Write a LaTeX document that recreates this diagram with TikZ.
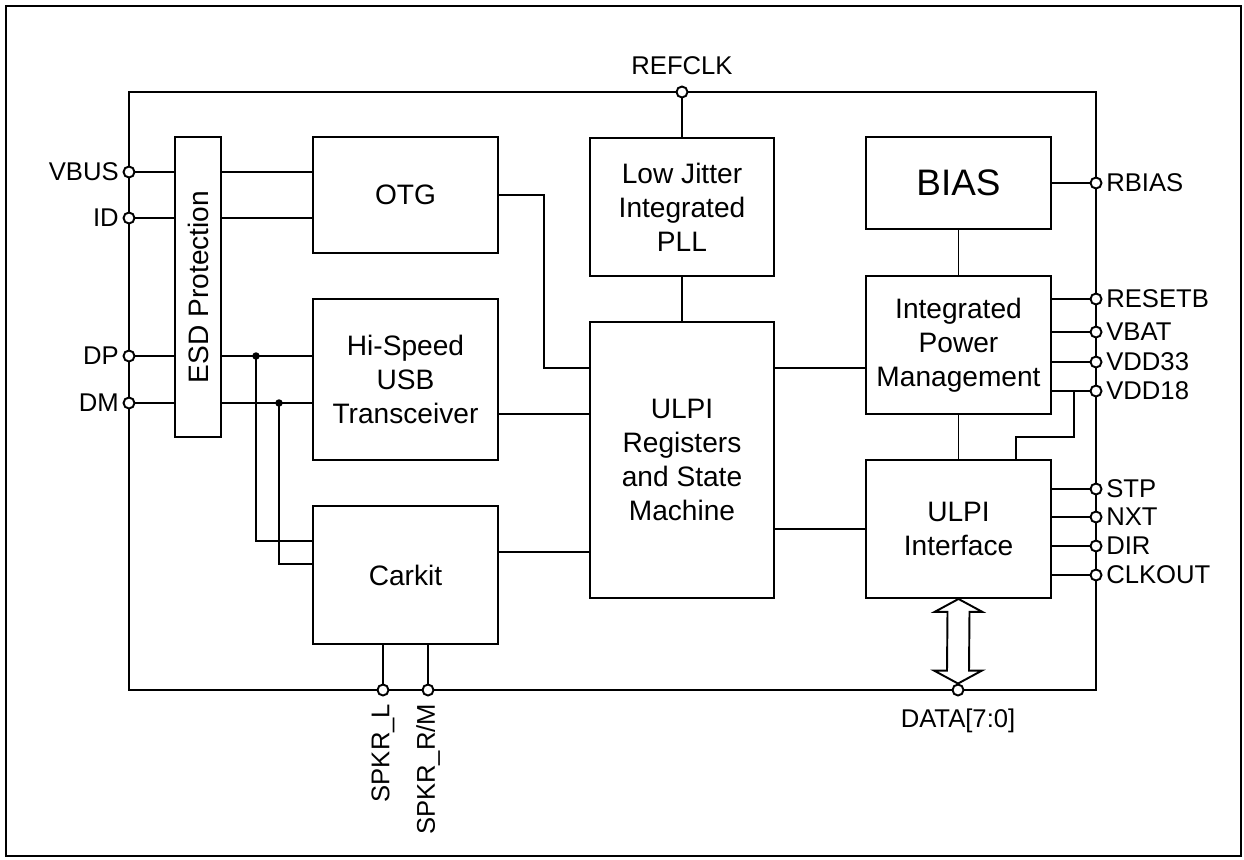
\documentclass[tikz,border=0pt]{standalone}
\usepackage{fontspec}
\setmainfont{Liberation Sans}
\usetikzlibrary{calc,positioning}
\tikzset{blk/.style={draw, line width=1.1pt, minimum width=3.7cm, align=center, inner sep=0pt, font=\fontsize{16}{19.4}\selectfont}, pin/.style={circle, draw, fill=white, line width=1.1pt, minimum size=0.22cm, inner sep=0pt}, lab/.style={font=\fontsize{14.6}{16}\selectfont, inner sep=1pt}, wire/.style={line width=1.1pt}, jdot/.style={circle, fill, inner sep=0pt, minimum size=0.15cm}}

\begin{document}
\begin{tikzpicture}[x=0.02cm, y=-0.02cm]
\useasboundingbox (0,0) rectangle (1244,859);
\draw[wire] (6,6) rectangle (1241,856);
% chip outline
\draw[wire] (129,92) rectangle (1096,690);
% blocks
\node[blk, minimum width=0.92cm, minimum height=6cm] (esd) at (198,287) {\rotatebox{90}{ESD Protection}};
\node[blk, minimum height=2.32cm] (otg) at (405.5,195) {OTG};
\node[blk, minimum height=3.22cm] (hs) at (405.5,379.5) {Hi-Speed\\USB\\Transceiver};
\node[blk, minimum height=2.76cm] (car) at (405.5,575) {Carkit};
\node[blk, minimum width=3.68cm, minimum height=2.76cm] (pll) at (682,207) {Low Jitter\\Integrated\\PLL};
\node[blk, minimum width=3.68cm, minimum height=5.52cm] (reg) at (682,460) {ULPI\\Registers\\and State\\Machine};
\node[blk, minimum height=1.84cm, font=\fontsize{21}{24}\selectfont] (bias) at (958.5,183) {BIAS};
\node[blk, minimum height=2.76cm] (pm) at (958.5,345) {Integrated\\Power\\Management};
\node[blk, minimum height=2.76cm] (ui) at (958.5,529) {ULPI\\Interface};
% pins
\foreach \nm/\y/\txt in {vbus/172/VBUS, id/218/ID, dp/356/DP, dm/403/DM}
  \node[pin, label={[lab, label distance=1pt]left:\txt}] (\nm) at (129,\y) {};
\foreach \nm/\y/\txt in {rbias/183/RBIAS, resetb/299/RESETB, vbat/332/VBAT, vdd33/362/VDD33, vdd18/391/VDD18, stp/489/STP, nxt/517/NXT, dir/546/DIR, clkout/575/CLKOUT}
  \node[pin, label={[lab, label distance=1pt]right:\txt}] (\nm) at (1096,\y) {};
\node[pin, label={[lab, label distance=5pt]above:REFCLK}] (refclk) at (682,92) {};
\node[pin, label={[lab, label distance=6pt]below:DATA[7:0]}] (data) at (958,690) {};
\node[pin] (spkl) at (383,690) {};
\node[pin] (spkr) at (428,690) {};
\node[lab, rotate=90, anchor=east] (spkllab) at ([yshift=-3pt]spkl.south) {SPKR\_L};
\node[lab, rotate=90, anchor=east] (spkrlab) at ([yshift=-3pt]spkr.south) {SPKR\_R/M};
% left side wiring
\draw[wire] (vbus) -- (vbus -| esd.west);
\draw[wire] (vbus -| esd.east) -- (vbus -| otg.west);
\draw[wire] (id) -- (id -| esd.west);
\draw[wire] (id -| esd.east) -- (id -| otg.west);
\draw[wire] (dp) -- (dp -| esd.west);
\draw[wire] (dp -| esd.east) -- (dp -| hs.west);
\draw[wire] (dm) -- (dm -| esd.west);
\draw[wire] (dm -| esd.east) -- (dm -| hs.west);
\node[jdot] (dpj) at (256,356) {};
\node[jdot] (dmj) at (279,403) {};
\draw[wire] (dpj.center) |- ([yshift=0.68cm]car.west);
\draw[wire] (dmj.center) |- ([yshift=0.22cm]car.west);
% to registers
\draw[wire] (otg.east) -- (544,195) |- ([yshift=1.84cm]reg.west);
\draw[wire] ([yshift=-0.69cm]hs.east) coordinate (h1) -- (h1 -| reg.west);
\draw[wire] ([yshift=0.46cm]car.east) coordinate (c1) -- (c1 -| reg.west);
\draw[wire] (pll.north) -- (refclk);
\draw[wire] (pll.south) -- (reg.north);
\draw[wire] ([yshift=1.84cm]reg.east) coordinate (r1) -- (r1 -| pm.west);
\draw[wire] (ui.west) -- (ui.west -| reg.east);
% right side wiring
\draw[wire] (bias.east) -- (rbias);
\draw[wire] (bias.south) -- (pm.north);
\draw[wire] (pm.south) -- (ui.north);
\foreach \nm in {resetb, vbat, vdd33, vdd18}
  \draw[wire] (\nm -| pm.east) -- (\nm);
\foreach \nm in {stp, nxt, dir, clkout}
  \draw[wire] (\nm -| ui.east) -- (\nm);
\coordinate (v18) at (1074,391);
\draw[wire] (v18) |- (1016,437) coordinate (v18b) -- (v18b |- ui.north);
% bottom
\draw[wire] (spkl) -- (spkl |- car.south);
\draw[wire] (spkr) -- (spkr |- car.south);
\draw[wire] (ui.south) -- ++(24,13) -- ++(-13,0) -- ($(data.north)+(11,-13)$) -- ++(13,0) -- (data.north) -- ++(-24,-13) -- ++(13,0) -- ($(ui.south)+(-11,13)$) -- ++(-13,0) -- cycle;
\end{tikzpicture}
\end{document}
